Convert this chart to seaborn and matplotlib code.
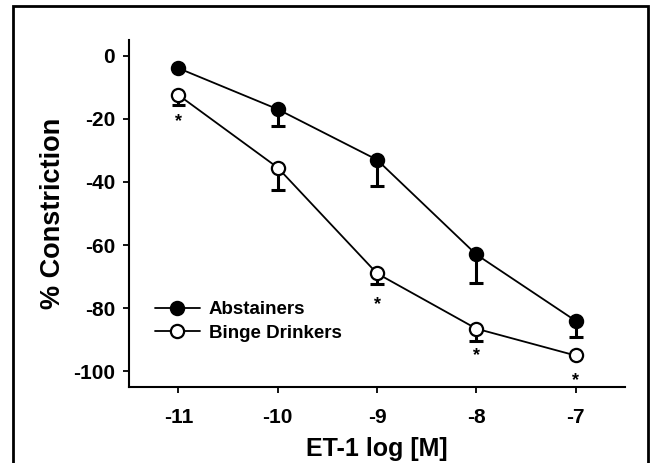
import numpy as np
import pandas as pd
import seaborn as sns
import matplotlib.pyplot as plt
from matplotlib.patches import Rectangle

# ET-1 dose response
log_dose = [-11, -10, -9, -8, -7]

abst_mean = [-4, -17, -33, -63, -84]
abst_sem = [0.0, 5.4, 8.4, 9.0, 5.0]

binge_mean = [-12.5, -35.5, -69, -86.5, -95]
binge_sem = [3.3, 7.2, 3.2, 4.0, 0.0]

# significance stars (below binge drinker points)
star_x = [-11, -9, -8, -7]
star_y = [-21, -79, -95, -103]

df = pd.DataFrame({
    'dose': log_dose * 2,
    'constriction': abst_mean + binge_mean,
    'sem': abst_sem + binge_sem,
    'group': ['Abstainers'] * 5 + ['Binge Drinkers'] * 5,
})

sns.set_theme(style='ticks')
plt.rcParams['font.family'] = ['Liberation Sans', 'DejaVu Sans']
plt.rcParams['font.weight'] = 'bold'
plt.rcParams['axes.unicode_minus'] = False
for k in ['text.color', 'axes.labelcolor', 'xtick.color', 'ytick.color']:
    plt.rcParams[k] = 'black'

fig = plt.figure(figsize=(6.54, 4.63), dpi=100)
ax = fig.add_axes([0.197, 0.164, 0.759, 0.750])

faces = {'Abstainers': 'black', 'Binge Drinkers': 'white'}
for grp, sub in df.groupby('group'):
    # one-sided (downward) error bars
    ax.vlines(sub['dose'], sub['constriction'] - sub['sem'], sub['constriction'],
              color='black', lw=2.2, zorder=2)
    ax.hlines(sub['constriction'] - sub['sem'], sub['dose'] - 0.07, sub['dose'] + 0.07,
              color='black', lw=2.2, zorder=2)
    sns.lineplot(data=sub, x='dose', y='constriction', ax=ax, color='black',
                 lw=1.3, marker='o', markersize=9.5, markerfacecolor=faces[grp],
                 markeredgecolor='black', markeredgewidth=1.6, label=grp, zorder=3)

for x, y in zip(star_x, star_y):
    ax.text(x, y, '*', ha='center', va='center', fontsize=13, fontweight='bold')

ax.set_xlim(-11.5, -6.5)
ax.set_ylim(-105, 5)
ax.set_xticks(log_dose)
ax.set_yticks([0, -20, -40, -60, -80, -100])
ax.tick_params(axis='both', labelsize=15, length=4, width=1.3, color='black')
ax.tick_params(axis='x', pad=11)
ax.tick_params(axis='y', pad=6)
for lab in ax.get_xticklabels() + ax.get_yticklabels():
    lab.set_fontweight('bold')

sns.despine(ax=ax)
for s in ['left', 'bottom']:
    ax.spines[s].set_linewidth(1.5)
    ax.spines[s].set_color('black')

ax.set_xlabel('ET-1 log [M]', fontsize=18, fontweight='bold', labelpad=7)
ax.set_ylabel('% Constriction', fontsize=19.5, fontweight='bold', labelpad=5)

leg = ax.legend(loc='upper left', bbox_to_anchor=(0.052, 0.248), frameon=False,
                fontsize=13.5, handlelength=2.4, handletextpad=0.5,
                labelspacing=0.35, borderaxespad=0, borderpad=0)
for t in leg.get_texts():
    t.set_fontweight('bold')

# outer frame around the figure (bottom runs off the image)
fig.patches.append(Rectangle((13 / 654, -0.05), (648 - 13) / 654, 1.05 - 6 / 463,
                             transform=fig.transFigure, fill=False,
                             edgecolor='black', lw=2, clip_on=False))

fig.savefig('out.png', dpi=100)
